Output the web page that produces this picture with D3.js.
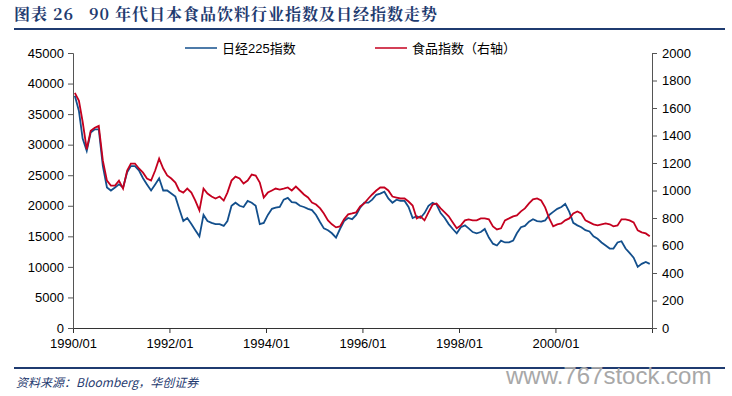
<!DOCTYPE html>
<html>
<head>
<meta charset="utf-8">
<script src="https://cdn.jsdelivr.net/npm/d3@7"></script>
<style>
  body { margin: 0; background: #fff; }
  svg { display: block; }
  .tick text { font-family: "Liberation Sans", Arial, sans-serif; font-size: 13px; fill: #000; }
</style>
</head>
<body>
<svg id="chart"></svg>
<script>
const width = 732;
const height = 396;

// monthly values, 1990/01 .. 2001/12
const nikkei = [
  38000, 35500, 31000, 29000, 32000, 32500, 32500, 26500, 23000, 22500, 23000, 23500,
  23000, 25500, 26500, 26500, 25800, 24500, 23500, 22500, 23500, 24500, 22500, 22500,
  22000, 21500, 19500, 17500, 18000, 17000, 16000, 15000, 18500, 17500, 17200, 17000,
  17000, 16700, 17500, 20000, 20500, 20000, 19800, 20800, 20500, 20000, 17000, 17200,
  18500, 19500, 19700, 19800, 21000, 21300, 20600, 20500, 20000, 19800, 19500, 19300,
  18500, 17300, 16300, 16000, 15500, 14800, 16200, 17500, 18000, 17800, 18500, 19700,
  20500, 20500, 21000, 21800, 22000, 22300, 21200, 20500, 21000, 20800, 20800, 19800,
  18000, 18300, 18000, 18800, 20000, 20500, 20200, 18800, 18000, 17000, 16200, 15500,
  16500, 16800, 16300, 15700, 15500, 15700, 16200, 14800, 13800, 13500, 14300, 14000,
  14000, 14300, 15500, 16500, 16700, 17400, 17800, 17500, 17400, 17600, 18500, 19000,
  19500, 19800, 20300, 19000, 17200, 16800, 16500, 16000, 15800, 15000, 14600, 14000,
  13500, 13000, 13000, 14000, 14200, 13000, 12300, 11500, 10000, 10500, 10800, 10500
];
const foodIndex = [
  1710, 1652, 1500, 1300, 1435, 1456, 1470, 1217, 1072, 1036, 1036, 1072,
  1014, 1145, 1196, 1196, 1160, 1130, 1087, 1072, 1145, 1232, 1160, 1109,
  1087, 1058, 1000, 985, 1014, 985, 927, 855, 1014, 978, 956, 942,
  956, 927, 985, 1072, 1101, 1087, 1051, 1072, 1116, 1109, 1058, 949,
  985, 1000, 1014, 1007, 1014, 1022, 1000, 1029, 1000, 971, 949, 913,
  898, 870, 833, 783, 754, 732, 739, 790, 826, 833, 841, 884,
  906, 942, 971, 1000, 1022, 1022, 1000, 956, 949, 942, 942, 920,
  891, 797, 812, 783, 841, 898, 906, 870, 841, 812, 768, 725,
  746, 783, 790, 783, 783, 797, 797, 790, 739, 717, 725, 783,
  797, 812, 819, 848, 870, 906, 935, 942, 927, 877, 797, 739,
  754, 761, 783, 797, 833, 848, 833, 783, 768, 754, 746, 754,
  761, 754, 739, 746, 790, 790, 783, 768, 710, 696, 688, 667
];
const leftTicks = [0, 5000, 10000, 15000, 20000, 25000, 30000, 35000, 40000, 45000];
const rightTicks = [0, 200, 400, 600, 800, 1000, 1200, 1400, 1600, 1800, 2000];
const xTickLabels = ["1990/01", "1992/01", "1994/01", "1996/01", "1998/01", "2000/01", ""];
const seriesNames = ["日经225指数", "食品指数（右轴）"];

const navy = "#1f3b70";
const blue = "#134f8c";
const red = "#c4001f";

const margin = {left: 73, right: 80, top: 53, bottom: 68};

const svg = d3.select("#chart")
    .attr("width", width)
    .attr("height", height);

const dates = nikkei.map((d, i) => new Date(1990, i, 15));

const x = d3.scaleTime()
    .domain([new Date(1990, 0, 1), new Date(2002, 0, 1)])
    .range([margin.left, width - margin.right]);

const yLeft = d3.scaleLinear()
    .domain([0, 45000])
    .range([height - margin.bottom, margin.top]);

const yRight = d3.scaleLinear()
    .domain([0, 2000])
    .range([height - margin.bottom, margin.top]);

// title and rules
svg.append("text")
    .attr("x", 14).attr("y", 20)
    .attr("fill", navy)
    .style("font-family", "'Noto Serif CJK SC', 'Noto Sans CJK SC', serif")
    .style("font-weight", "bold")
    .style("font-size", "16px")
    .style("letter-spacing", "1px")
    .style("white-space", "pre")
    .text("图表 26   90 年代日本食品饮料行业指数及日经指数走势");

svg.append("line")
    .attr("x1", 14).attr("x2", 725)
    .attr("y1", 29).attr("y2", 29)
    .attr("stroke", navy).attr("stroke-width", 2);

svg.append("line")
    .attr("x1", 14).attr("x2", 725)
    .attr("y1", 368).attr("y2", 368)
    .attr("stroke", navy).attr("stroke-width", 2);

svg.append("text")
    .attr("x", 16).attr("y", 387)
    .attr("fill", navy)
    .style("font-family", "'Noto Sans CJK SC', sans-serif")
    .style("font-style", "italic")
    .style("font-size", "12px")
    .text("资料来源：Bloomberg，华创证券");

// watermark
svg.append("text")
    .attr("x", 506).attr("y", 384)
    .attr("fill", "#a8a8a8")
    .style("font-family", "'Liberation Sans', Arial, sans-serif")
    .style("font-size", "24px")
    .text("www.767stock.com");

// axes
const xAxis = d3.axisBottom(x)
    .tickValues(d3.range(1990, 2003, 2).map(yr => new Date(yr, 0, 1)))
    .tickFormat((d, i) => xTickLabels[i])
    .tickSizeOuter(0)
    .tickSize(5)
    .tickPadding(6);

svg.append("g")
    .attr("transform", `translate(0,${height - margin.bottom})`)
    .call(xAxis)
    .call(g => g.selectAll("line, path").attr("stroke", "#333"));

svg.append("g")
    .attr("transform", `translate(${margin.left},0)`)
    .call(d3.axisLeft(yLeft).tickValues(leftTicks).tickFormat(d3.format("d")).tickSizeOuter(0).tickSize(5).tickPadding(4))
    .call(g => g.selectAll("line, path").attr("stroke", "#555"));

svg.append("g")
    .attr("transform", `translate(${width - margin.right},0)`)
    .call(d3.axisRight(yRight).tickValues(rightTicks).tickFormat(d3.format("d")).tickSizeOuter(0).tickSize(5).tickPadding(5))
    .call(g => g.selectAll("line, path").attr("stroke", "#555"));

// lines
const lineLeft = d3.line()
    .x((d, i) => x(dates[i]))
    .y(d => yLeft(d));

const lineRight = d3.line()
    .x((d, i) => x(dates[i]))
    .y(d => yRight(d));

svg.append("path")
    .datum(nikkei)
    .attr("d", lineLeft)
    .attr("fill", "none")
    .attr("stroke", blue)
    .attr("stroke-width", 1.8);

svg.append("path")
    .datum(foodIndex)
    .attr("d", lineRight)
    .attr("fill", "none")
    .attr("stroke", red)
    .attr("stroke-width", 1.8);

// legend
const legend = svg.append("g")
    .style("font-family", "'Liberation Sans', 'Noto Sans CJK SC', sans-serif")
    .style("font-size", "13px");

const legendItems = [
    {name: seriesNames[0], color: blue, x: 185},
    {name: seriesNames[1], color: red, x: 375}
];

legendItems.forEach(item => {
    legend.append("line")
        .attr("x1", item.x).attr("x2", item.x + 32)
        .attr("y1", 48).attr("y2", 48)
        .attr("stroke", item.color).attr("stroke-width", 1.5);
    legend.append("text")
        .attr("x", item.x + 37).attr("y", 52.5)
        .attr("fill", "#000")
        .text(item.name);
});
</script>
</body>
</html>
